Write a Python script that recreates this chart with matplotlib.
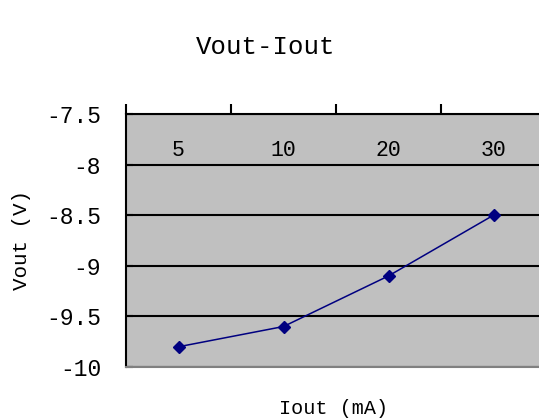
import matplotlib.pyplot as plt
import numpy as np

iout_labels = ["5", "10", "20", "30"]
vout = [-9.8, -9.6, -9.1, -8.5]
y_ticks = [-10, -9.5, -9, -8.5, -8, -7.5]
y_tick_labels = ["-10", "-9.5", "-9", "-8.5", "-8", "-7.5"]

plt.rcParams["font.family"] = ["Liberation Mono", "DejaVu Sans Mono"]

fig = plt.figure(figsize=(5.39, 4.2), dpi=100)
# plot area runs off the right edge like the original
ax = fig.add_axes([126 / 539, 1 - 367 / 420, 420 / 539, 253 / 420])
ax.set_facecolor("#C0C0C0")

x = np.arange(len(vout))
ax.plot(x, vout, color="#000080", linewidth=1.1, marker="D", markersize=6,
        markerfacecolor="#000080", markeredgecolor="#000080", zorder=3)

ax.set_xlim(-0.5, len(vout) - 0.5)
ax.set_ylim(-10, -7.5)

ax.set_yticks(y_ticks)
ax.set_yticklabels(y_tick_labels)
ax.yaxis.grid(True, color="black", linewidth=1.5)
ax.tick_params(axis="y", direction="in", length=5, width=1.5, labelsize=16.5, pad=18)

# category axis sits at the top, labels hang inside the plot
ax.xaxis.tick_top()
ax.set_xticks(np.arange(-0.5, len(vout), 1.0))
ax.set_xticklabels([])
ax.set_xticks(x, minor=True)
ax.set_xticklabels(iout_labels, minor=True)
ax.tick_params(axis="x", which="major", direction="out", length=7, width=1.5)
ax.tick_params(axis="x", which="minor", length=0, labelsize=15.5, pad=-34)

for side in ["left", "top"]:
    ax.spines[side].set_linewidth(1.5)
    ax.spines[side].set_color("black")
ax.spines["bottom"].set_color("#808080")
ax.spines["bottom"].set_linewidth(1.5)
ax.spines["right"].set_visible(False)

ax.set_ylabel("Vout (V)", fontsize=15)
ax.yaxis.set_label_coords((31 - 126) / 420, 0.5)
fig.text(334 / 539, 1 - 408 / 420, "Iout (mA)", fontsize=14.5, ha="center", va="center")
fig.text(266 / 539, 1 - 47 / 420, "Vout-Iout", fontsize=18.5, ha="center", va="center")

fig.savefig("out.png", dpi=100)
